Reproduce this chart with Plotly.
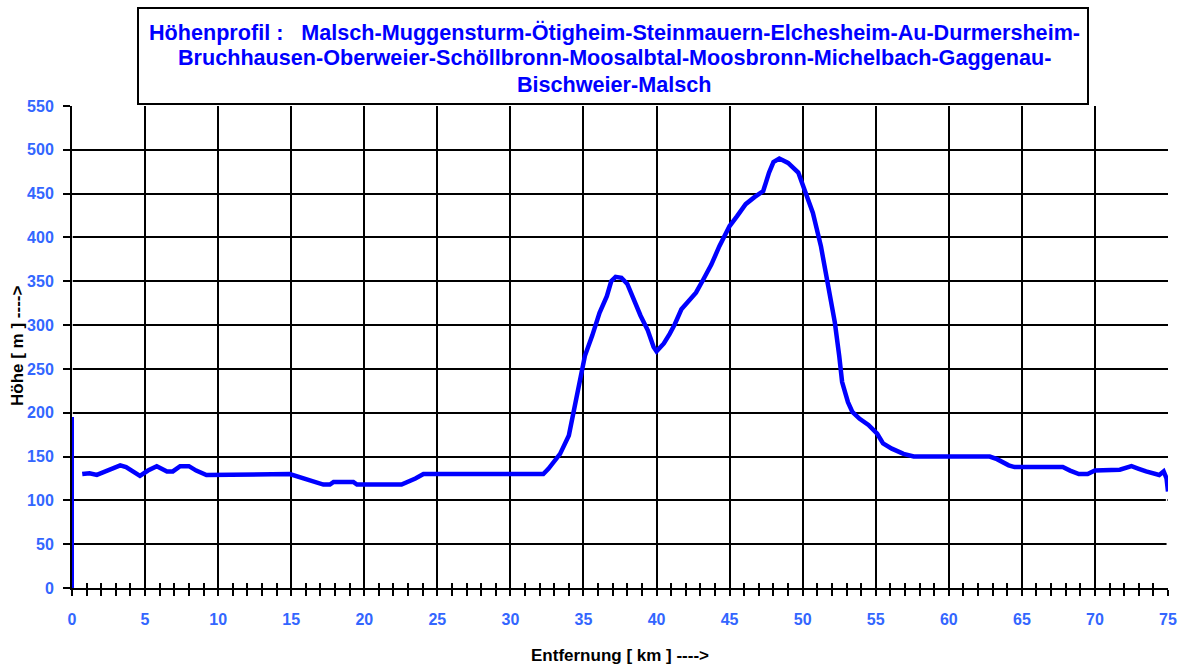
import plotly.graph_objects as go

# ---- data ----
km = [0.7, 1.2, 1.7, 2.1, 2.6, 3.3, 3.7, 4.65, 5.2, 5.8, 6.5, 6.9, 7.4, 8.0, 8.5, 9.2,
      14.9, 15.6, 16.1, 16.5, 17.2, 17.65, 17.9, 19.25, 19.5, 22.55, 23.0, 23.5, 24.05,
      32.25, 32.6, 33.4, 34.0, 34.4, 34.8, 35.1, 35.6, 36.1, 36.6, 36.9, 37.2, 37.6,
      38.0, 38.5, 38.9, 39.4, 39.8, 40.0, 40.5, 40.9, 41.25, 41.7, 42.2, 42.7, 43.2,
      43.75, 44.3, 45.0, 45.5, 46.1, 46.7, 47.3, 47.7, 48.0, 48.4, 49.0, 49.7, 50.1,
      50.7, 51.25, 51.7, 52.2, 52.5, 52.7, 53.1, 53.4, 53.9, 54.5, 55.1, 55.5, 56.1,
      56.9, 57.6, 62.8, 63.3, 64.1, 64.5, 67.8, 68.3, 68.9, 69.5, 70.0, 71.7, 71.95,
      72.5, 73.0, 73.5, 74.4, 74.7, 74.9, 75.0]
hoehe = [130, 131, 129, 132, 136, 140, 138, 128, 134, 139, 133, 133, 139, 139, 134, 129,
         130, 126, 124, 122, 118, 118, 121, 121, 118, 118, 121, 125, 130,
         130, 136, 153, 174, 205, 239, 265, 288, 314, 333, 350, 355, 354,
         347, 326, 311, 294, 275, 270, 279, 290, 301, 318, 327, 337, 352,
         369, 390, 413, 424, 438, 446, 453, 474, 486, 490, 485, 474, 456,
         428, 390, 349, 303, 265, 235, 212, 201, 193, 186, 176, 165, 159,
         153, 150, 150, 147, 140, 138, 138, 134, 130, 130, 134, 135, 136,
         139, 136, 133, 129, 133, 125, 110]

start_km = [0, 0]
start_h = [0, 195]

# faint white overdrawn pieces visible in the reference
white_left_km = [0, 0]
white_left_h = [195, 432]
white_right_km = [74.9, 75]
white_right_h = [106, 0]

x_ticks = list(range(0, 76, 5))
y_ticks = list(range(0, 551, 50))

title_lines = [
    "Höhenprofil :\u00a0\u00a0\u00a0Malsch-Muggensturm-Ötigheim-Steinmauern-Elchesheim-Au-Durmersheim-",
    "Bruchhausen-Oberweier-Schöllbronn-Moosalbtal-Moosbronn-Michelbach-Gaggenau-",
    "Bischweier-Malsch",
]
title_line_y = [32, 58, 85]
x_title = "Entfernung [ km ] ---->"
y_title = "Höhe [ m ] ---->"

FONT = "Liberation Sans, Arial, sans-serif"
TICKCOL = "#3366FF"
BLUE = "#0000FF"

W, H = 1182, 665
L, R, T, B = 72, 14, 106, 77
pw, ph = W - L - R, H - T - B


def px2paper_x(px):
    return (px - L) / pw


def px2paper_y(py):
    return (H - B - py) / ph


fig = go.Figure()
fig.add_trace(go.Scatter(x=white_left_km, y=white_left_h, mode="lines",
                         line=dict(color="white", width=1.5), cliponaxis=False,
                         hoverinfo="skip", showlegend=False))
fig.add_trace(go.Scatter(x=white_right_km, y=white_right_h, mode="lines",
                         line=dict(color="white", width=1.5), cliponaxis=False,
                         hoverinfo="skip", showlegend=False))
fig.add_trace(go.Scatter(x=start_km, y=start_h, mode="lines",
                         line=dict(color=BLUE, width=4), cliponaxis=False,
                         showlegend=False))
fig.add_trace(go.Scatter(x=km, y=hoehe, mode="lines",
                         line=dict(color=BLUE, width=4.5), cliponaxis=False,
                         showlegend=False))
# invisible helper trace for the overlay axis (inside tick marks)
fig.add_trace(go.Scatter(x=[0], y=[0], xaxis="x2", mode="markers",
                         marker=dict(opacity=0), hoverinfo="skip", showlegend=False))

annotations = [
    dict(text=line, xref="paper", yref="paper",
         x=px2paper_x(614), y=px2paper_y(ly), xanchor="center", yanchor="middle",
         showarrow=False, font=dict(family=FONT, size=21.6, color=BLUE, weight="bold"))
    for line, ly in zip(title_lines, title_line_y)
]
annotations += [
    dict(text=x_title, xref="paper", yref="paper",
         x=px2paper_x(620), y=px2paper_y(655), xanchor="center", yanchor="middle",
         showarrow=False, font=dict(family=FONT, size=17, color="black", weight="bold")),
    dict(text=y_title, xref="paper", yref="paper", textangle=-90,
         x=px2paper_x(17), y=px2paper_y(346), xanchor="center", yanchor="middle",
         showarrow=False, font=dict(family=FONT, size=17, color="black", weight="bold")),
]

fig.update_layout(
    width=W, height=H, autosize=False,
    margin=dict(l=L, r=R, t=T, b=B, pad=0),
    paper_bgcolor="white", plot_bgcolor="white",
    font=dict(family=FONT),
    xaxis=dict(range=[0, 75], tickvals=x_ticks, showgrid=True, gridcolor="black",
               gridwidth=2, zeroline=False, showline=True, linecolor="black",
               linewidth=2, ticks="outside", ticklen=6, tickwidth=2, tickcolor="black",
               minor=dict(dtick=1, ticks="outside", ticklen=6, tickwidth=2,
                          tickcolor="black", showgrid=False),
               tickfont=dict(family=FONT, size=16, color=TICKCOL, weight="bold"),
               ticklabelstandoff=10, layer="below traces", automargin=False),
    xaxis2=dict(range=[0, 75], overlaying="x", anchor="y", side="bottom",
                showgrid=False, zeroline=False, showline=False, showticklabels=False,
                ticks="inside", dtick=1, tick0=0, ticklen=5, tickwidth=2,
                tickcolor="black", layer="below traces"),
    yaxis=dict(range=[0, 550], tickvals=y_ticks, showgrid=True, gridcolor="black",
               gridwidth=2, zeroline=False, showline=True, linecolor="black",
               linewidth=2, ticks="outside", ticklen=7, tickwidth=2, tickcolor="black",
               tickfont=dict(family=FONT, size=16, color=TICKCOL, weight="bold"),
               ticklabelstandoff=6, layer="below traces", automargin=False),
    shapes=[dict(type="rect", xref="paper", yref="paper",
                 x0=px2paper_x(138), x1=px2paper_x(1088),
                 y0=px2paper_y(104), y1=px2paper_y(8),
                 line=dict(color="black", width=2), fillcolor="white", layer="above")],
    annotations=annotations,
)

fig.write_html("out.html", config={"displayModeBar": False},
               post_script="document.body.style.margin='0';document.body.style.overflow='hidden';")
